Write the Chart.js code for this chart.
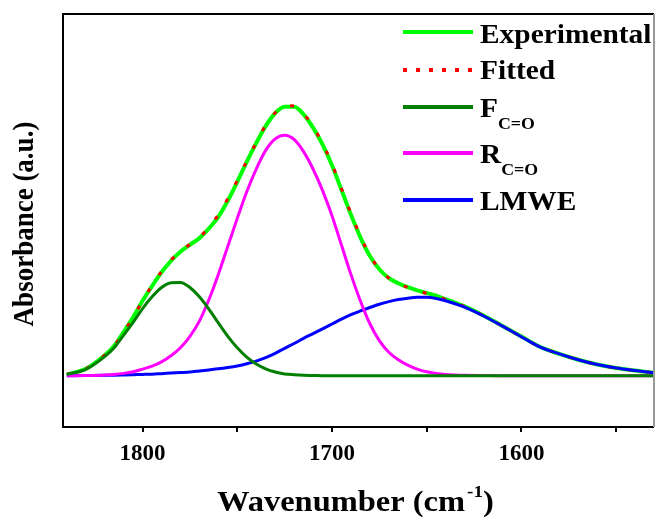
<!DOCTYPE html>
<html>
<head>
<meta charset="utf-8">
<script src="https://cdn.jsdelivr.net/npm/chart.js@4"></script>
<style>
  html, body { margin:0; padding:0; background:#fff; }
  #wrap { width:655px; height:517px; }
</style>
</head>
<body>
<div id="wrap"><canvas id="chart" width="655" height="517"></canvas></div>
<script>
// FTIR carbonyl band deconvolution
const wavenumbers = [1840,1830,
  1820,1815,1810,1805,1800,1795,1790,1785,1780,1775,1770,1765,1760,1755,1750,1745,1740,1735,
  1730,1725,1720,1715,1710,1705,1700,1695,1690,1685,1680,1675,1670,1665,1660,1655,1650,1645,1640,1635,1630,
  1620,1610,1600,1590,1580,1570,1560,1550,1540,1530];
const experimental = [0.004,0.026,
  0.077,0.112,0.164,0.219,0.281,0.336,0.388,0.431,0.465,0.491,0.516,0.552,0.596,0.656,0.727,0.802,0.872,0.936,
  0.984,1.008,1.008,0.980,0.930,0.867,0.789,0.697,0.604,0.519,0.449,0.399,0.366,0.347,0.332,0.320,0.310,0.300,0.287,0.274,0.260,
  0.226,0.187,0.147,0.108,0.082,0.060,0.042,0.029,0.020,0.011];
const fitted = [0.005,0.026,
  0.077,0.112,0.164,0.219,0.282,0.338,0.391,0.434,0.467,0.493,0.519,0.557,0.604,0.664,0.732,0.805,0.874,0.939,
  0.986,1.012,1.011,0.982,0.934,0.871,0.794,0.702,0.609,0.523,0.451,0.400,0.366,0.346,0.331,0.319,0.309,0.299,0.286,0.273,0.259,
  0.225,0.186,0.146,0.107,0.082,0.060,0.042,0.029,0.020,0.011];
const fCO = [0.005,0.024,
  0.072,0.105,0.152,0.200,0.252,0.296,0.331,0.349,0.350,0.331,0.296,0.250,0.198,0.148,0.105,0.070,0.044,0.026,
  0.014,0.007,0.004,0.002,0.001,0,0,0,0,0,0,0,0,0,0,0,0,0,0,0,0,
  0,0,0,0,0,0,0,0,0,0];
const rCO = [0,0.001,
  0.003,0.005,0.009,0.015,0.025,0.036,0.052,0.075,0.105,0.148,0.205,0.285,0.380,0.485,0.590,0.690,0.775,0.845,
  0.888,0.902,0.886,0.840,0.775,0.695,0.600,0.490,0.380,0.280,0.195,0.132,0.088,0.060,0.040,0.025,0.015,0.009,0.005,0.003,0.002,
  0.001,0,0,0,0,0,0,0,0,0];
const lmwe = [0,0.001,
  0.002,0.002,0.003,0.004,0.005,0.006,0.008,0.010,0.012,0.014,0.018,0.022,0.026,0.031,0.037,0.045,0.055,0.068,
  0.084,0.103,0.121,0.140,0.158,0.176,0.194,0.212,0.229,0.243,0.256,0.268,0.278,0.286,0.291,0.294,0.294,0.290,0.281,0.270,0.257,
  0.224,0.186,0.146,0.107,0.082,0.060,0.042,0.029,0.020,0.011];

const xTicks = [1800,1750,1700,1650,1600,1550];
const seriesNames = ['Experimental','Fitted','F','R','LMWE'];
const seriesSubs = ['','','C=O','C=O',''];
const seriesColors = ['#00ff00','#ff0000','#007f00','#ff00ff','#0000ff'];

const SERIF = "'Liberation Serif','Times New Roman',serif";
const pts = arr => wavenumbers.map((w,i)=>({x:w, y:arr[i]}));

function stretchText(ctx, text, x, y, sx){
  ctx.save(); ctx.translate(x,y); ctx.scale(sx,1); ctx.fillText(text,0,0); ctx.restore();
  return ctx.measureText(text).width*sx;
}

// box, axis titles and legend drawn by hand (sub/superscripts)
const decor = {
  id:'decor',
  afterDraw(chart){
    const ctx = chart.ctx, a = chart.chartArea;
    ctx.save();
    // frame
    ctx.strokeStyle = '#000'; ctx.lineWidth = 2;
    ctx.beginPath();
    ctx.moveTo(a.right, a.top); ctx.lineTo(a.left, a.top); ctx.lineTo(a.left, a.bottom); ctx.lineTo(a.right, a.bottom);
    ctx.stroke();
    ctx.strokeStyle = '#999';
    ctx.beginPath(); ctx.moveTo(a.right, a.top); ctx.lineTo(a.right, a.bottom); ctx.stroke();

    ctx.fillStyle = '#000'; ctx.textBaseline = 'alphabetic'; ctx.textAlign = 'left';
    // x title
    ctx.font = 'bold 29px ' + SERIF;
    let x = 217;
    x += stretchText(ctx, 'Wavenumber (cm', x, 511, 1.12);
    ctx.font = 'bold 17px ' + SERIF;
    x += stretchText(ctx, '-1', x + 2, 497, 1.12) + 2;
    ctx.font = 'bold 29px ' + SERIF;
    stretchText(ctx, ')', x, 511, 1.12);

    // y title
    ctx.save();
    ctx.translate(33, 224); ctx.rotate(-Math.PI/2); ctx.scale(1, 1.1);
    ctx.font = 'bold 27px ' + SERIF; ctx.textAlign = 'center';
    ctx.fillText('Absorbance (a.u.)', 0, 0);
    ctx.restore();

    // legend
    const lineY = [32,70,107,153,200], baseY = [42.7,79.3,116.7,163.3,210];
    seriesNames.forEach((name,i)=>{
      ctx.save();
      ctx.strokeStyle = seriesColors[i]; ctx.lineWidth = 4;
      if (i===1) ctx.setLineDash([4,9]);
      ctx.beginPath(); ctx.moveTo(403, lineY[i]); ctx.lineTo(473, lineY[i]); ctx.stroke();
      ctx.restore();
      ctx.font = 'bold 28px ' + SERIF; ctx.textAlign = 'left';
      const w = stretchText(ctx, name, 480, baseY[i], 1.05);
      if (seriesSubs[i]){
        ctx.font = 'bold 17px ' + SERIF;
        stretchText(ctx, seriesSubs[i], 480 + w, baseY[i] + 12, 1.05);
      }
    });
    ctx.restore();
  }
};

const ds = (label, arr, color, width, order, dash) => ({
  label, data: pts(arr), borderColor: color, borderWidth: width, borderDash: dash || [],
  pointRadius: 0, fill: false, cubicInterpolationMode: 'monotone', order
});

new Chart(document.getElementById('chart'), {
  type: 'line',
  data: {
    datasets: [
      ds('Experimental', experimental, seriesColors[0], 4, 4),
      ds('Fitted', fitted, seriesColors[1], 3, 3, [4,16]),
      ds('F C=O', fCO, seriesColors[2], 3, 0),
      ds('R C=O', rCO, seriesColors[3], 3, 1),
      ds('LMWE', lmwe, seriesColors[4], 3, 2)
    ]
  },
  options: {
    responsive: false, animation: false, devicePixelRatio: 1,
    layout: { padding: { left: 63, top: 14, right: 1, bottom: 0 } },
    plugins: { legend: { display: false }, tooltip: { enabled: false } },
    scales: {
      x: {
        type: 'linear', reverse: true, min: 1530, max: 1842,
        afterBuildTicks: s => { s.ticks = xTicks.map(v => ({ value: v })); },
        afterFit: s => { s.height = 90; },
        border: { display: false },
        grid: { drawOnChartArea: false, drawTicks: true, tickLength: 5, color: '#000', lineWidth: 2 },
        ticks: {
          autoSkip: false, maxRotation: 0, padding: 8, color: '#000',
          font: { family: SERIF, size: 23, weight: 'bold' },
          callback: v => (v % 100 === 0 ? String(v) : '')
        }
      },
      y: { display: false, min: -0.192, max: 1.356 }
    }
  },
  plugins: [decor]
});
</script>
</body>
</html>
